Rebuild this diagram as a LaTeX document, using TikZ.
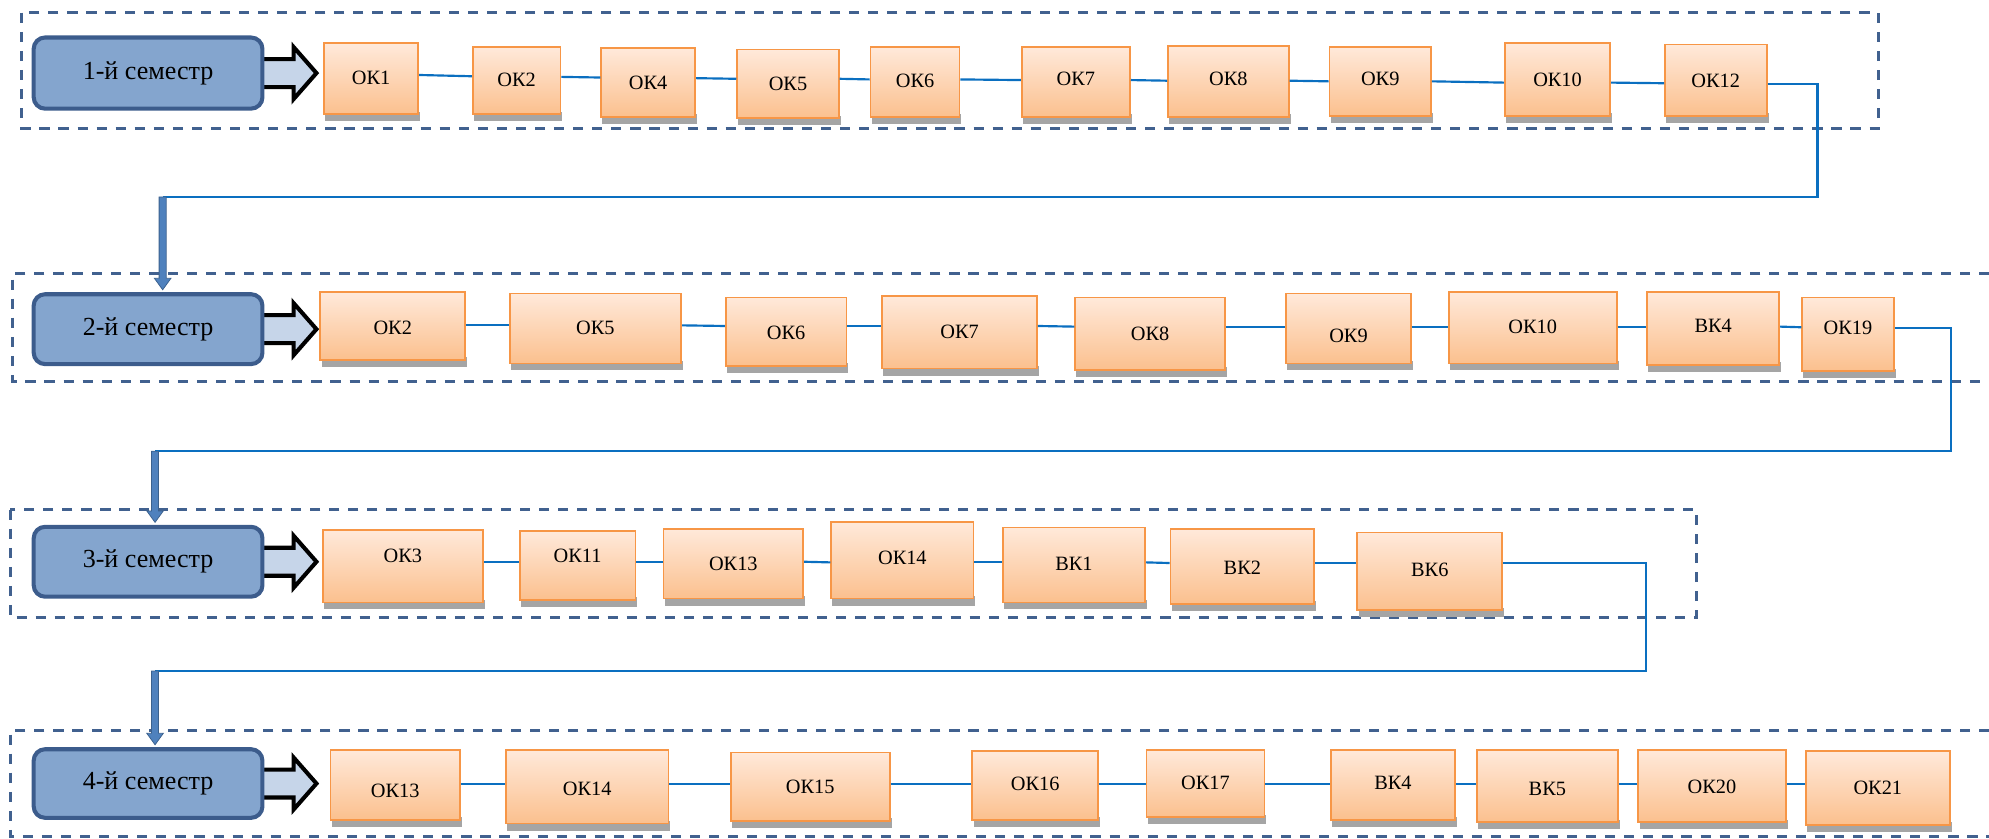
\documentclass[tikz,border=0pt]{standalone}
\usepackage{fontspec}
\setmainfont{Liberation Serif}
\definecolor{dashc}{HTML}{41618F}
\definecolor{semfill}{HTML}{84A5CE}
\definecolor{semdraw}{HTML}{3C5C8C}
\definecolor{okdraw}{HTML}{F79646}
\definecolor{oktop}{HTML}{FFE9DA}
\definecolor{okbot}{HTML}{FBC08E}
\definecolor{shadowc}{HTML}{A5A5A5}
\definecolor{connc}{HTML}{0A6FC0}
\definecolor{arrfill}{HTML}{C6D5E9}
\definecolor{darrfill}{HTML}{4F81BD}
\tikzset{
  frame/.style={draw=dashc, line width=2.4pt, dash pattern=on 8pt off 7pt},
  sembox/.style={draw=semdraw, fill=semfill, line width=3.2pt, rounded corners=9pt,
    minimum width=180pt, inner sep=0pt, font=\fontsize{20.5}{24}\selectfont},
  okbox/.style={draw=okdraw, line width=1.4pt, top color=oktop, bottom color=okbot, inner sep=0pt},
  oklabel/.style={font=\fontsize{16}{19}\selectfont, inner sep=0pt},
  conn/.style={draw=connc, line width=1.7pt},
  blockarr/.style={draw=black, fill=arrfill, line width=3.2pt, line join=miter},
  downarr/.style={draw=darrfill!75!black, fill=darrfill, line width=0.6pt},
}
\newcommand{\okb}[7]{%
  \fill[shadowc] (#2+1,#5-2) rectangle (#4+1.5,#5+5.5);
  \node[okbox, minimum width={#4pt-#2pt}, minimum height={#5pt-#3pt}] (#1) at ({(#2+#4)/2},{(#3+#5)/2}) {};
  \node[oklabel] (#1-t) at ({(#2+#4)/2},#7) {#6};
}
\newcommand{\semb}[4]{%
  \draw[blockarr] (200,{(#2+#3)/2-11}) -- (231,{(#2+#3)/2-11}) -- (231,{(#2+#3)/2-20.5}) -- (249,{(#2+#3)/2})
    -- (231,{(#2+#3)/2+20.5}) -- (231,{(#2+#3)/2+11}) -- (200,{(#2+#3)/2+11}) -- cycle;
  \node[sembox, minimum height={#3pt-#2pt-3pt}] (#1) at (116.5,{(#2+#3)/2}) {#4};
}
\newcommand{\darr}[3]{%
  \draw[downarr] (#1-2.8,#2) -- (#1+2.8,#2) -- (#1+2.8,#3-9) -- (#1+6.5,#3-9) -- (#1,#3)
    -- (#1-6.5,#3-9) -- (#1-2.8,#3-9) -- cycle;
}
\begin{document}
\begin{tikzpicture}[x=1pt,y=-1pt]
\useasboundingbox (0,0) rectangle (1565,660);
% frames
\draw[frame] (17,10) rectangle (1478,101);
\draw[frame] (1565,215) -- (10,215) -- (10,300) -- (1565,300);
\draw[frame] (8,401) rectangle (1335,486);
\draw[frame] (1565,575) -- (8,575) -- (8,658) -- (1565,658);
% semesters
\semb{s1}{28}{87}{1-й семестр}
\semb{s2}{230}{288}{2-й семестр}
\semb{s3}{413}{471}{3-й семестр}
\semb{s4}{588}{645}{4-й семестр}
% row 1
\okb{r1a}{255}{34}{329}{90}{ОК1}{61}
\okb{r1b}{372}{37}{441}{90}{ОК2}{63}
\okb{r1c}{473}{38}{547}{92}{ОК4}{65}
\okb{r1d}{580}{39}{660}{93}{ОК5}{66}
\okb{r1e}{685}{37}{755}{92}{ОК6}{64}
\okb{r1f}{804}{37}{889}{92}{ОК7}{62}
\okb{r1g}{919}{36}{1014}{92}{ОК8}{62}
\okb{r1h}{1046}{37}{1126}{91}{ОК9}{62}
\okb{r1i}{1184}{34}{1267}{91}{ОК10}{63}
\okb{r1j}{1310}{35}{1390}{91}{ОК12}{64}
% row 2
\okb{r2a}{252}{230}{366}{283}{ОК2}{258}
\okb{r2b}{401}{231}{536}{286}{ОК5}{258}
\okb{r2c}{571}{234}{666}{288}{ОК6}{262}
\okb{r2d}{694}{233}{816}{290}{ОК7}{261}
\okb{r2e}{846}{234}{964}{291}{ОК8}{263}
\okb{r2f}{1012}{231}{1110}{286}{ОК9}{264}
\okb{r2g}{1140}{230}{1272}{286}{ОК10}{257}
\okb{r2h}{1296}{230}{1400}{287}{ВК4}{256}
\okb{r2i}{1418}{234}{1490}{292}{ОК19}{258}
% row 3
\okb{r3a}{254}{417}{380}{474}{ОК3}{437}
\okb{r3b}{409}{418}{500}{472}{ОК11}{437}
\okb{r3c}{522}{416}{632}{471}{ОК13}{444}
\okb{r3d}{654}{411}{766}{471}{ОК14}{439}
\okb{r3e}{789}{415}{901}{474}{ВК1}{444}
\okb{r3f}{921}{416}{1034}{475}{ВК2}{447}
\okb{r3g}{1068}{419}{1182}{480}{ВК6}{448}
% row 4
\okb{r4a}{260}{590}{362}{645}{ОК13}{622}
\okb{r4b}{398}{590}{526}{648}{ОК14}{621}
\okb{r4c}{575}{592}{700}{646}{ОК15}{619}
\okb{r4d}{765}{591}{864}{645}{ОК16}{617}
\okb{r4e}{902}{590}{995}{643}{ОК17}{616}
\okb{r4f}{1047}{590}{1145}{645}{ВК4}{616}
\okb{r4g}{1162}{590}{1273}{647}{ВК5}{621}
\okb{r4h}{1289}{590}{1405}{647}{ОК20}{619}
\okb{r4i}{1421}{591}{1534}{649}{ОК21}{620}
% connectors within rows
\foreach \a/\b/\ya/\yb in {r1a/r1b/59/60,r1b/r1c/60.5/61,r1c/r1d/61.5/62,r1d/r1e/62/62.5,r1e/r1f/62.5/63,
  r1f/r1g/63/63.5,r1g/r1h/63.5/64,r1h/r1i/64/65,r1i/r1j/65/65.5,
  r2a/r2b/256/256,r2b/r2c/256/256.5,r2c/r2d/256.5/256.5,r2d/r2e/256.5/257,r2e/r2f/257/257,
  r2f/r2g/257/257,r2g/r2h/257/257,r2h/r2i/257/257.5,
  r3a/r3b/442/442,r3b/r3c/442/442,r3c/r3d/442/442.5,r3d/r3e/442.5/442.5,r3e/r3f/442.5/443,r3f/r3g/443/443,
  r4a/r4b/617/617,r4b/r4c/617/617,r4c/r4d/617/617,r4d/r4e/617/617,r4e/r4f/617/617,
  r4f/r4g/617/617,r4g/r4h/617/617,r4h/r4i/617/617}
  {\coordinate (cya) at (0,\ya); \coordinate (cyb) at (0,\yb);
   \draw[conn] (\a.east |- cya) -- (\b.west |- cyb);}
% transitions
\coordinate (t1a) at (1430,66);
\coordinate (t1b) at (1430,155);
\coordinate (t1c) at (128,155);
\draw[conn] (r1j.east |- t1a) -- (t1a) -- (t1b) -- (t1c);
\darr{128}{155}{228}
\coordinate (t2a) at (1535,258);
\coordinate (t2b) at (1535,355);
\coordinate (t2c) at (122,355);
\draw[conn] (r2i.east |- t2a) -- (t2a) -- (t2b) -- (t2c);
\darr{122}{355}{411}
\coordinate (t3a) at (1295,443);
\coordinate (t3b) at (1295,528);
\coordinate (t3c) at (122,528);
\draw[conn] (r3g.east |- t3a) -- (t3a) -- (t3b) -- (t3c);
\darr{122}{528}{586}
\end{tikzpicture}
\end{document}
